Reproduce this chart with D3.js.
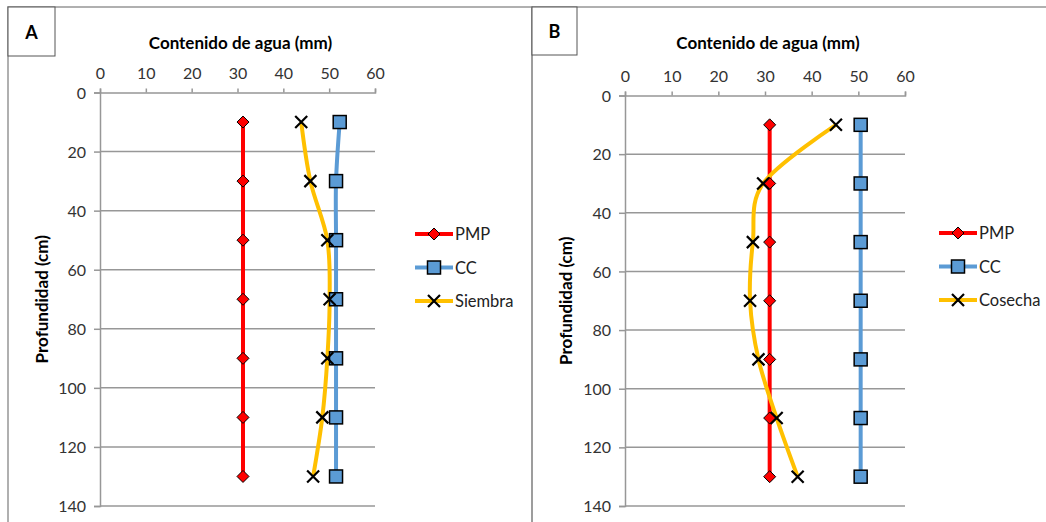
<!DOCTYPE html>
<html><head><meta charset="utf-8">
<script src="https://cdn.jsdelivr.net/npm/d3@7"></script>
<style>body{margin:0;background:#fff}svg{display:block}text{font-family:Lato,"Liberation Sans",sans-serif}</style>
</head><body><svg id="c" width="1046" height="522"></svg>
<script>
const depths = [10, 30, 50, 70, 90, 110, 130];
const pmpA = [31.2, 31.2, 31.2, 31.2, 31.2, 31.2, 31.2];
const ccA = [52.3, 51.5, 51.5, 51.5, 51.5, 51.5, 51.5];
const siembra = [43.9, 45.9, 49.6, 50.1, 49.6, 48.5, 46.5];
const pmpB = [31, 31, 31, 31, 31, 31, 31];
const ccB = [50.5, 50.5, 50.5, 50.5, 50.5, 50.5, 50.5];
const cosecha = [45.2, 29.6, 27.4, 26.8, 28.6, 32.5, 37];
const xTicks = [0, 10, 20, 30, 40, 50, 60];
const yTicks = [0, 20, 40, 60, 80, 100, 120, 140];
const xTitle = "Contenido de agua (mm)";
const yTitle = "Profundidad (cm)";

const svg = d3.select("#c");
const GRID = "#979797";

function panel(o) {
  const g = svg.append("g");
  g.append("path").attr("d", o.border).attr("fill", "none").attr("stroke", GRID).attr("stroke-width", 1.5);
  g.append("rect").attr("x", o.box[0]).attr("y", o.box[1]).attr("width", o.box[2]).attr("height", o.box[3])
    .attr("fill", "#fff").attr("stroke", "#555").attr("stroke-width", 1);
  g.append("text").attr("x", o.box[0] + o.box[2] / 2).attr("y", o.box[1] + o.box[3] / 2 + 7)
    .attr("text-anchor", "middle").attr("font-size", 18).attr("font-weight", "bold").text(o.letter);

  const x = d3.scaleLinear().domain([0, 60]).range(o.xr);
  const y = d3.scaleLinear().domain([0, 140]).range(o.yr);

  g.append("g").selectAll("line").data(yTicks.slice(1)).join("line")
    .attr("x1", o.xr[0]).attr("x2", o.xr[1]).attr("y1", d => y(d)).attr("y2", d => y(d))
    .attr("stroke", GRID).attr("stroke-width", 1.5);

  const xa = g.append("g").attr("transform", `translate(0,${o.yr[0]})`)
    .call(d3.axisTop(x).tickValues(xTicks).tickSize(4).tickPadding(10));
  const ya = g.append("g").attr("transform", `translate(${o.xr[0]},0)`)
    .call(d3.axisLeft(y).tickValues(yTicks).tickSize(6).tickPadding(8));
  [xa, ya].forEach(a => {
    a.select(".domain").attr("stroke", GRID).attr("stroke-width", 1.5);
    a.selectAll(".tick line").attr("stroke", GRID).attr("stroke-width", 1.5);
    a.selectAll("text").attr("font-size", 16).attr("fill", "#333").attr("font-family", "Lato");
  });
  xa.selectAll("text").attr("dy", 0);
  ya.selectAll("text").attr("dy", "0.35em");

  g.append("text").attr("x", (o.xr[0] + o.xr[1]) / 2 + 3).attr("y", 49).attr("text-anchor", "middle")
    .attr("font-size", 17).attr("font-weight", "bold").text(xTitle);
  g.append("text").attr("transform", `translate(${o.ytx},${(o.yr[0] + o.yr[1]) / 2}) rotate(-90)`)
    .attr("text-anchor", "middle").attr("font-size", 17).attr("font-weight", "bold").text(yTitle);

  const straight = d3.line().x(d => x(d[0])).y(d => y(d[1]));
  const smooth = d3.line().x(d => x(d[0])).y(d => y(d[1])).curve(d3.curveCardinal.tension(0));

  const series = [
    { vals: o.pmp, color: "#FF0000", marker: "diamond", line: straight, name: "PMP" },
    { vals: o.cc, color: "#5B9BD5", marker: "square", line: smooth, name: "CC" },
    { vals: o.third, color: "#FFC000", marker: "x", line: smooth, name: o.thirdName }
  ];

  function drawMarker(sel, type, color) {
    if (type === "diamond") {
      sel.append("path").attr("d", "M0,-6L6,0L0,6L-6,0Z").attr("fill", color).attr("stroke", "#000").attr("stroke-width", 1);
    } else if (type === "square") {
      sel.append("rect").attr("x", -6.5).attr("y", -6.5).attr("width", 13).attr("height", 13)
        .attr("fill", color).attr("stroke", "#000").attr("stroke-width", 1.5);
    } else {
      sel.append("path").attr("d", "M-6,-6L6,6M-6,6L6,-6").attr("stroke", "#000").attr("stroke-width", 2.2).attr("fill", "none");
    }
  }

  series.forEach(s => {
    const pts = s.vals.map((v, i) => [v, depths[i]]);
    g.append("path").attr("d", s.line(pts)).attr("fill", "none").attr("stroke", s.color).attr("stroke-width", 4);
  });
  series.forEach(s => {
    const pts = s.vals.map((v, i) => [v, depths[i]]);
    g.append("g").selectAll("g").data(pts).join("g")
      .attr("transform", d => `translate(${x(d[0])},${y(d[1])})`)
      .each(function () { drawMarker(d3.select(this), s.marker, s.color); });
  });

  series.forEach((s, i) => {
    const ly = o.leg[1] + i * 33.5;
    const lg = g.append("g");
    lg.append("line").attr("x1", o.leg[0]).attr("x2", o.leg[0] + 38).attr("y1", ly).attr("y2", ly)
      .attr("stroke", s.color).attr("stroke-width", 4);
    const m = lg.append("g").attr("transform", `translate(${o.leg[0] + 19},${ly})`);
    drawMarker(m, s.marker, s.color);
    lg.append("text").attr("x", o.leg[0] + 40).attr("y", ly + 6).attr("font-size", 16.5).attr("fill", "#222").text(s.name);
  });
}

panel({
  letter: "A", border: "M8,522V7H532V522", box: [8, 7, 47, 49],
  xr: [100, 375], yr: [92.5, 506], ytx: 48,
  pmp: pmpA, cc: ccA, third: siembra, thirdName: "Siembra", leg: [415, 234]
});
panel({
  letter: "B", border: "M532,522V7H1046", box: [532, 7, 45, 48],
  xr: [625, 905], yr: [95.5, 506], ytx: 572,
  pmp: pmpB, cc: ccB, third: cosecha, thirdName: "Cosecha", leg: [939, 233]
});
</script></body></html>
